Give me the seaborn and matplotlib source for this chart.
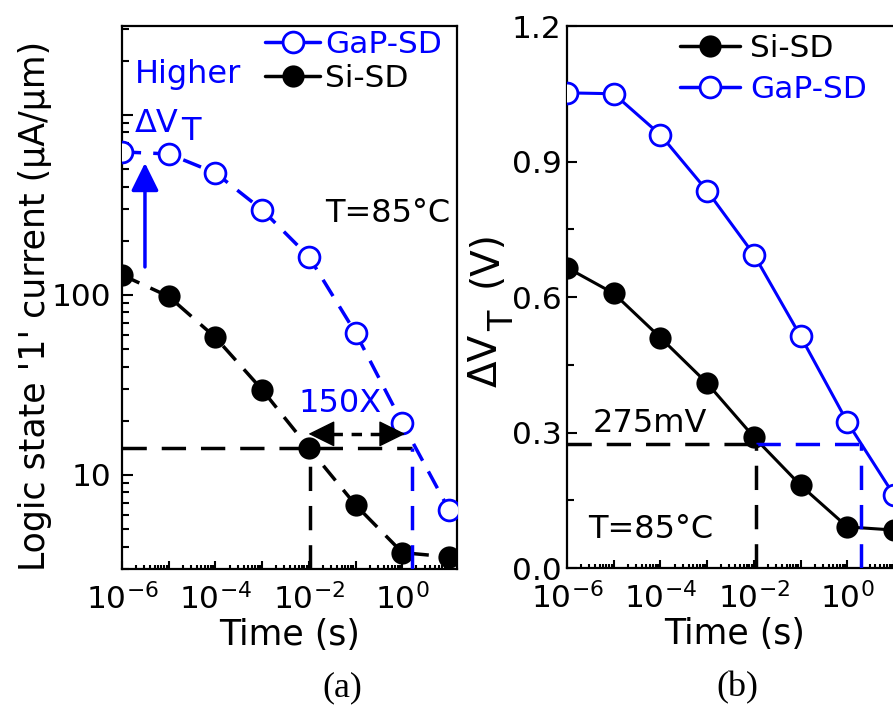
import numpy as np
import pandas as pd
import matplotlib
matplotlib.use("Agg")
import matplotlib.pyplot as plt
import matplotlib.ticker as mticker
from matplotlib.lines import Line2D
import seaborn as sns

# Retention time points (s)
time_s = [1e-6, 1e-5, 1e-4, 1e-3, 1e-2, 1e-1, 1e0, 1e1]

# (a) logic state '1' read current (uA/um) at T = 85 C
current_gap = [623, 607, 476, 297, 163, 61.5, 19.4, 6.4]
current_si = [129, 98, 58, 29.7, 14.1, 6.8, 3.7, 3.5]

# (b) threshold-voltage shift (V) at T = 85 C
dvt_si = [0.665, 0.608, 0.510, 0.409, 0.290, 0.183, 0.091, 0.084]
dvt_gap = [1.052, 1.050, 0.959, 0.835, 0.694, 0.513, 0.323, 0.161]

# Retention criteria and the times at which each device reaches them
current_level = 14.1      # uA/um
t_si_a = 1.05e-2          # s
t_gap_a = 150 * t_si_a    # s  (150X longer)
dvt_level = 0.275         # V  (275 mV)
t_si_b = 1.1e-2           # s
t_gap_b = 2.0             # s

BLUE = "#0000ff"
W, H = 893, 706

sns.set_style("ticks")
plt.rcParams.update({
    "font.family": ["DejaVu Sans"],
    "mathtext.fontset": "dejavusans",
    "axes.linewidth": 1.6,
    "axes.edgecolor": "black",
    "axes.labelcolor": "black",
    "text.color": "black",
    "xtick.color": "black",
    "ytick.color": "black",
    "xtick.labelcolor": "black",
    "ytick.labelcolor": "black",
})

fig = plt.figure(figsize=(W / 100, H / 100), dpi=100)
fig.patch.set_facecolor("white")


def fx(x):
    return x / W


def fy(y):
    return 1 - y / H


ax_a = fig.add_axes([fx(122), fy(569), 335 / W, 543 / H])
ax_b = fig.add_axes([fx(567), fy(568), 335 / W, 542 / H])

TICK_FS = 22.5
LABEL_FS = 25
TEXT_FS = 23
curve_dash = (0, (5.5, 3.5))
guide_dash = (0, (7, 4.3))
open_kw = dict(marker="o", markersize=15, markerfacecolor="white",
               markeredgecolor=BLUE, markeredgewidth=2)
solid_kw = dict(marker="o", markersize=16, markerfacecolor="black",
                markeredgecolor="black", markeredgewidth=0)

# ---------------- (a) read current ----------------
ax_a.set_xscale("log")
ax_a.set_yscale("log")
sns.lineplot(x=time_s, y=current_gap, ax=ax_a, color=BLUE, linewidth=2.5,
             linestyle=curve_dash, errorbar=None, zorder=4, **open_kw)
sns.lineplot(x=time_s, y=current_si, ax=ax_a, color="black", linewidth=2.5,
             linestyle=curve_dash, errorbar=None, zorder=4, **solid_kw)

ymin_a, ymax_a = 3.0, 10 ** 3.494
ax_a.plot([1e-6, t_gap_a], [current_level] * 2, color="black", lw=2.5,
          linestyle=guide_dash, zorder=5)
ax_a.plot([t_si_a] * 2, [ymin_a, current_level], color="black", lw=2.5,
          linestyle=guide_dash, zorder=5)
ax_a.plot([t_gap_a] * 2, [ymin_a, current_level], color=BLUE, lw=2.5,
          linestyle=guide_dash, zorder=5)

# double-headed "150X" arrow
arrow_level = 16.9
head = "-|>,head_length=0.85,head_width=0.42"
for tip, tail in [(0.0098, 0.031), (1.15, 0.37)]:
    ax_a.annotate("", xy=(tip, arrow_level), xytext=(tail, arrow_level),
                  arrowprops=dict(arrowstyle=head, mutation_scale=20,
                                  color="black", lw=1, shrinkA=0, shrinkB=0),
                  zorder=6)
ax_a.plot([0.031, 0.37], [arrow_level] * 2, color="black", lw=2.5,
          linestyle=(0, (3, 2.5)), zorder=6)

# "Higher dVT" arrow
ax_a.annotate("", xy=(3.1e-6, 541), xytext=(3.1e-6, 143),
              arrowprops=dict(arrowstyle=head, mutation_scale=20,
                              color=BLUE, lw=2.5, shrinkA=0, shrinkB=0),
              zorder=6)

ax_a.set_ylim(ymin_a, ymax_a)
ax_a.yaxis.set_major_locator(mticker.FixedLocator([10, 100, 1000]))
ax_a.yaxis.set_major_formatter(mticker.FixedFormatter(["10", "100", ""]))
ax_a.yaxis.set_minor_locator(mticker.LogLocator(base=10, subs=np.arange(2, 10), numticks=20))
ax_a.yaxis.set_minor_formatter(mticker.NullFormatter())
ax_a.tick_params(axis="y", which="major", length=8, pad=8)
ax_a.tick_params(axis="y", which="minor", length=5)

# ---------------- (b) threshold-voltage shift ----------------
ax_b.set_xscale("log")
sns.lineplot(x=time_s, y=dvt_si, ax=ax_b, color="black", linewidth=2.2,
             errorbar=None, zorder=4, **solid_kw)
sns.lineplot(x=time_s, y=dvt_gap, ax=ax_b, color=BLUE, linewidth=2.2,
             errorbar=None, zorder=4, **open_kw)

ax_b.plot([1e-6, t_si_b], [dvt_level] * 2, color="black", lw=2.5,
          linestyle=guide_dash, zorder=5)
ax_b.plot([t_si_b, t_gap_b], [dvt_level] * 2, color=BLUE, lw=2.5,
          linestyle=guide_dash, zorder=5)
ax_b.plot([t_si_b] * 2, [0, dvt_level], color="black", lw=2.5,
          linestyle=guide_dash, zorder=5)
ax_b.plot([t_gap_b] * 2, [0, dvt_level], color=BLUE, lw=2.5,
          linestyle=guide_dash, zorder=5)

ax_b.set_ylim(0, 1.2)
ax_b.yaxis.set_major_locator(mticker.MultipleLocator(0.3))
ax_b.yaxis.set_major_formatter(mticker.FormatStrFormatter("%.1f"))
ax_b.yaxis.set_minor_locator(mticker.MultipleLocator(0.15))
ax_b.tick_params(axis="y", which="major", length=7, pad=4)
ax_b.tick_params(axis="y", which="minor", length=5)


def decade_label(v, pos):
    k = int(round(np.log10(v)))
    return f"$10^{{{k}}}$" if k % 2 == 0 else ""


for ax in (ax_a, ax_b):
    ax.set_xlim(1e-6, 10 ** 1.17)
    ax.xaxis.set_major_locator(mticker.FixedLocator([10.0 ** k for k in range(-6, 2)]))
    ax.xaxis.set_major_formatter(mticker.FuncFormatter(decade_label))
    ax.xaxis.set_minor_locator(mticker.LogLocator(base=10, subs=np.arange(2, 10), numticks=20))
    ax.xaxis.set_minor_formatter(mticker.NullFormatter())
    ax.tick_params(axis="both", which="both", direction="in", top=False,
                   right=False, labelsize=TICK_FS, width=1.5,
                   color="black", labelcolor="black")
    ax.tick_params(axis="x", which="major", length=6, pad=10)
    ax.tick_params(axis="x", which="minor", length=3)
    ax.set_xlabel("Time (s)", fontsize=LABEL_FS, labelpad=2, color="black")
    for s in ax.spines.values():
        s.set_visible(True)
        s.set_linewidth(1.6)
        s.set_color("black")

ax_a.set_ylabel("Logic state '1' current (\u03bcA/\u03bcm)", fontsize=LABEL_FS,
                color="black")
ax_a.yaxis.set_label_coords((52 - 122) / 335, 0.485)

# legends
h_gap = Line2D([], [], color=BLUE, lw=2.5, **open_kw)
h_si = Line2D([], [], color="black", lw=2.5, **solid_kw)
ax_a.legend([h_gap, h_si], ["GaP-SD", "Si-SD"], loc="upper left",
            bbox_to_anchor=(0.427, 0.993), frameon=False, fontsize=TICK_FS,
            handlelength=1.76, handletextpad=0.16, borderpad=0,
            borderaxespad=0, labelspacing=0.18, labelcolor=[BLUE, "black"])
ax_b.legend([h_si, h_gap], ["Si-SD", "GaP-SD"], loc="upper left",
            bbox_to_anchor=(0.337, 0.985), frameon=False, fontsize=TICK_FS,
            handlelength=1.92, handletextpad=0.32, borderpad=0,
            borderaxespad=0, labelspacing=0.37, labelcolor=["black", BLUE])

# annotations for (a)
fig.text(fx(135), fy(83), "Higher", color=BLUE, fontsize=TEXT_FS, va="baseline")
fig.text(fx(135), fy(132), "\u0394V", color=BLUE, fontsize=TEXT_FS, va="baseline")
fig.text(fx(181), fy(140), "T", color=BLUE, fontsize=TEXT_FS, va="baseline")
fig.text(fx(325), fy(222), "T=85\u00b0C", color="black", fontsize=TEXT_FS, va="baseline")
fig.text(fx(298), fy(412), "150X", color=BLUE, fontsize=TEXT_FS, va="baseline")

# annotations for (b)
fig.text(fx(593), fy(432), "275mV", color="black", fontsize=TEXT_FS, va="baseline")
fig.text(fx(588), fy(538), "T=85\u00b0C", color="black", fontsize=TEXT_FS, va="baseline")

# y label of (b): delta V with a subscript T, in volts
fig.text(fx(486), fy(387), "\u0394V", rotation=90, fontsize=28, ha="center", va="bottom")
fig.text(fx(504), fy(331), "T", rotation=90, fontsize=24, ha="center", va="bottom")
fig.text(fx(486), fy(287), "(V)", rotation=90, fontsize=28, ha="center", va="bottom")

# panel captions
fig.text(fx(342), fy(696), "(a)", family="Liberation Serif", fontsize=26,
         ha="center", va="baseline")
fig.text(fx(737), fy(696), "(b)", family="Liberation Serif", fontsize=26,
         ha="center", va="baseline")

fig.savefig("out.png", dpi=100, facecolor="white")
